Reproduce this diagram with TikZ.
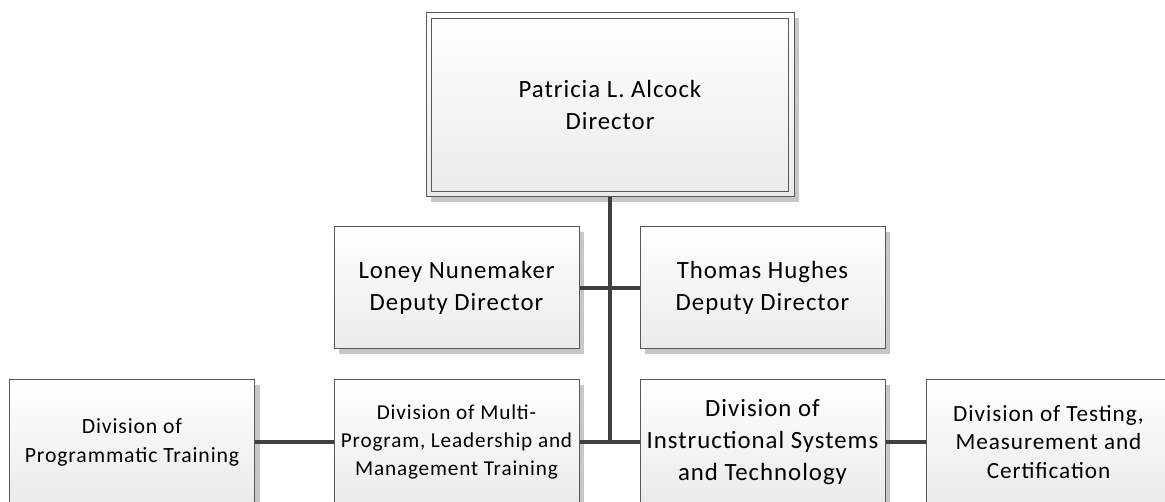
\documentclass[tikz,border=0pt]{standalone}
\usepackage{fontspec}
\setmainfont{Carlito}[LetterSpace=4]
\usetikzlibrary{shadows}

\begin{document}
\begin{tikzpicture}[x=0.75pt,y=-0.75pt,
    box/.style={draw=black!65,line width=0.75pt,top color=white,bottom color=black!8,
      drop shadow={shadow xshift=3.75pt,shadow yshift=-3.75pt,fill=black!22,opacity=1},
      align=center,inner sep=0pt,minimum width=183.75pt,minimum height=91.5pt},
    lowbox/.style={box,minimum height=93pt},
    link/.style={draw=black!75,line width=2.6pt}]
    \useasboundingbox (0,0) rectangle (1165,502);

    \node[box,minimum width=276pt,minimum height=138pt,font=\fontsize{18.6}{23.5}\selectfont] (director) at (610,105) {Patricia L. Alcock\\Director};
    \draw[black!65,line width=0.75pt] ([shift={(6,6)}]director.north west) rectangle ([shift={(-6,-6)}]director.south east);

    \node[box,font=\fontsize{18.6}{23.5}\selectfont] (loney) at (456.5,288) {Loney Nunemaker\\Deputy Director};
    \node[box,font=\fontsize{18.6}{23.5}\selectfont] (thomas) at (762.5,288) {Thomas Hughes\\Deputy Director};

    \node[lowbox,font=\fontsize{16.3}{21.8}\selectfont] (prog) at (132,442) {Division of\\Programmatic Training};
    \node[lowbox,font=\fontsize{15.9}{21}\selectfont] (multi) at (456.5,442) {Division of Multi-\\Program, Leadership and\\Management Training};
    \node[lowbox,font=\fontsize{18.6}{24}\selectfont] (instr) at (762.5,442) {Division of\\Instructional Systems\\and Technology};
    \node[lowbox,font=\fontsize{17.4}{21.4}\selectfont] (testing) at (1048.5,442) {Division of Testing,\\Measurement and\\Certification};

    \draw[link] (director.south) -- (director.south |- multi.east);
    \draw[link] (loney.east) -- (thomas.west);
    \draw[link] (multi.east) -- (instr.west);
    \draw[link] (prog.east) -- (multi.west);
    \draw[link] (instr.east) -- (testing.west);

\end{tikzpicture}
\end{document}
